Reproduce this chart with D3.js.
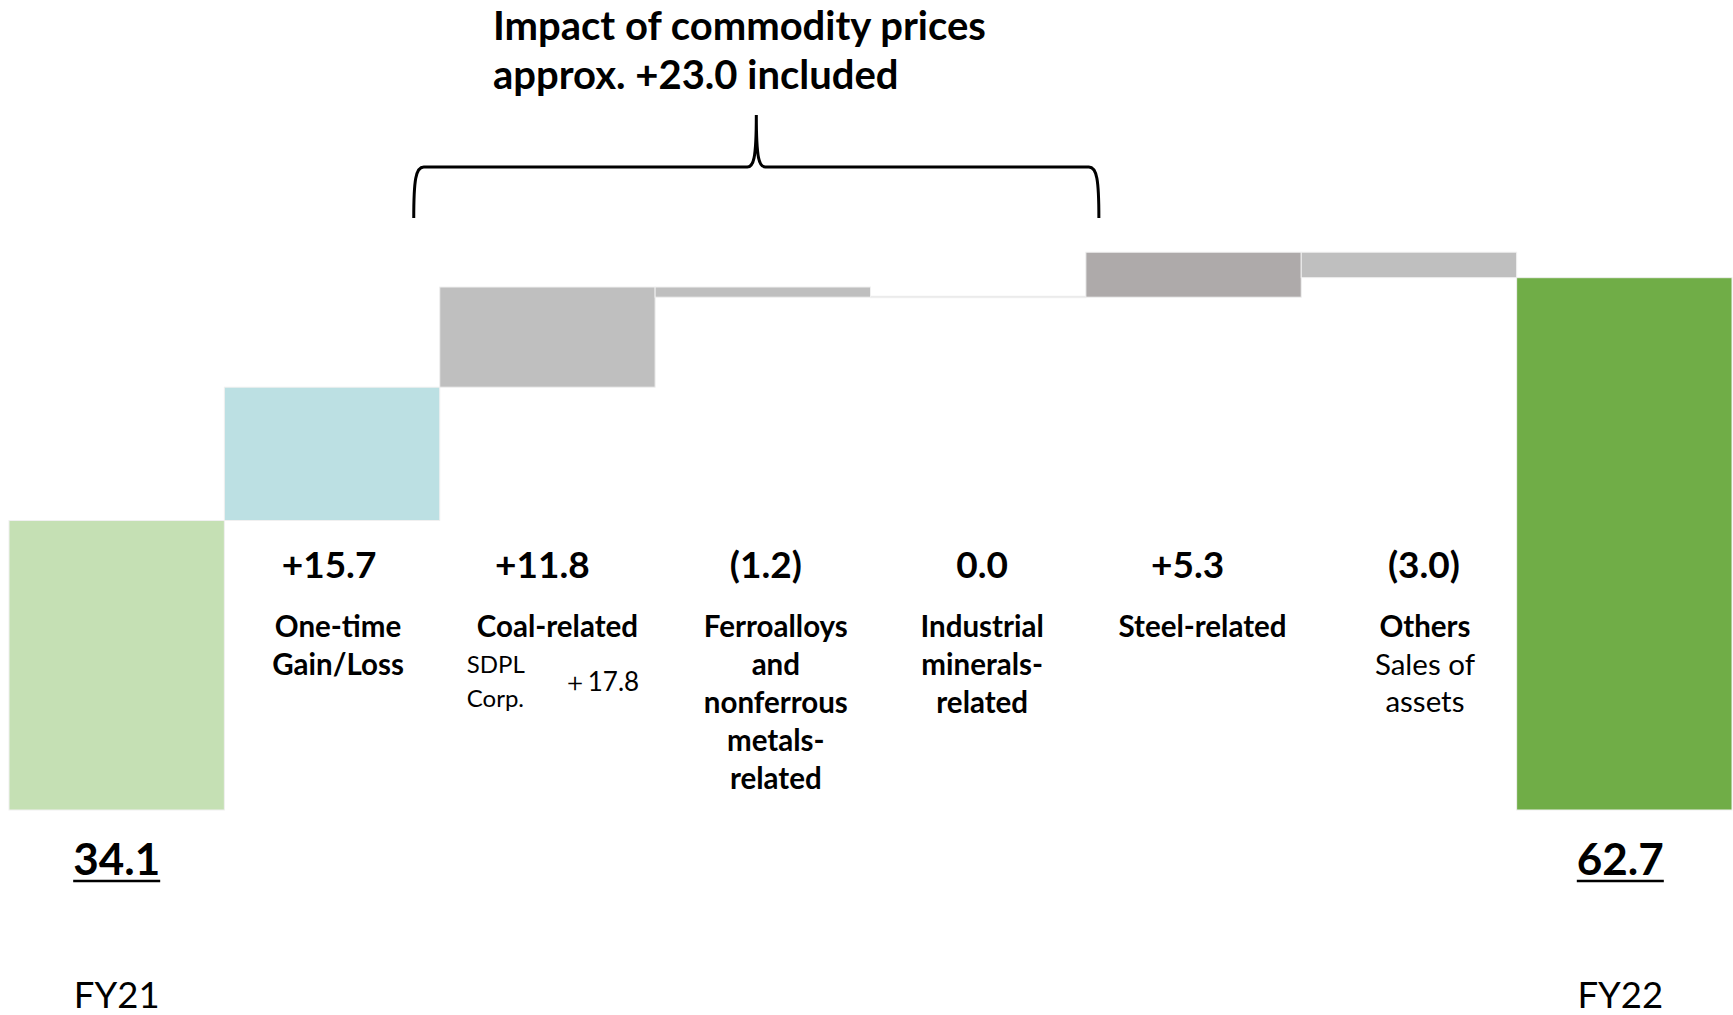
<!DOCTYPE html>
<html>
<head>
<meta charset="utf-8">
<script src="https://cdn.jsdelivr.net/npm/d3@7"></script>
<style>
  html, body { margin: 0; padding: 0; background: #fff; }
  svg { display: block; font-family: Lato, "Open Sans", sans-serif; }
</style>
</head>
<body>
<svg id="chart" width="1733" height="1015"></svg>
<script>
// waterfall data (billion yen)
var categories = ["FY21", "One-time", "Coal", "Ferro", "Industrial", "Steel", "Others", "FY22"];
var values = [34.1, 15.7, 11.8, -1.2, 0.0, 5.3, -3.0, 62.7];
var isTotal = [true, false, false, false, false, false, false, true];
var valueLabels = ["34.1", "+15.7", "+11.8", "(1.2)", "0.0", "+5.3", "(3.0)", "62.7"];
var boldLines = [[], ["One-time", "Gain/Loss"], ["Coal-related"],
  ["Ferroalloys", "and", "nonferrous", "metals-", "related"],
  ["Industrial", "minerals-", "related"], ["Steel-related"], ["Others"], []];
var plainLines = [[], [], [], [], [], [], ["Sales of", "assets"], []];
var periodLabels = ["FY21", "FY22"];
var titleLines = ["Impact of commodity prices", "approx. +23.0 included"];
var coalNote = ["SDPL", "Corp."], coalNoteValue = "＋17.8";
var colors = ["#c5e0b4", "#bce0e3", "#bfbfbf", "#bfbfbf", "#d9d9d9", "#aeaaaa", "#bfbfbf", "#70ad47"];

var svg = d3.select("#chart");

var x = d3.scaleBand().domain(categories).range([9, 1732]).padding(0),
    y = d3.scaleLinear().domain([0, 70]).range([810, 810 - 70 * 8.49]);

// running totals for the floating bars
var run = 0;
var bars = values.map(function(v, i) {
  var lo, hi;
  if (isTotal[i]) { lo = 0; hi = v; run = v; }
  else { lo = Math.min(run, run + v); hi = Math.max(run, run + v); run += v; }
  return {cat: categories[i], lo: lo, hi: hi, v: v, i: i};
});

svg.append("g").selectAll("rect")
  .data(bars)
  .enter().append("rect")
    .attr("x", function(d) { return x(d.cat); })
    .attr("width", x.bandwidth())
    .attr("y", function(d) { return d.hi === d.lo ? y(d.hi) - 1 : y(d.hi); })
    .attr("height", function(d) { return Math.max(y(d.lo) - y(d.hi), 1.5); })
    .attr("fill", function(d) { return colors[d.i]; })
    .attr("stroke", "#f0f0f0")
    .attr("stroke-width", 1);

// small horizontal nudges so labels sit where the slide put them
var nudge = [0, -3, -5, 3, 4, -6, 15, -4];
var labelNudge = [0, 6, 10, 13, 4, 9, 16, 0];

var steps = bars.filter(function(d) { return !isTotal[d.i]; });

svg.append("g")
    .attr("font-weight", "bold")
    .attr("font-size", 37)
    .attr("text-anchor", "middle")
  .selectAll("text")
  .data(steps)
  .enter().append("text")
    .attr("x", function(d) { return x(d.cat) + x.bandwidth() / 2 + nudge[d.i]; })
    .attr("y", 578)
    .text(function(d) { return valueLabels[d.i]; });

var cat = svg.append("g")
    .attr("text-anchor", "middle")
    .attr("font-size", 29.5)
  .selectAll("g")
  .data(steps)
  .enter().append("g")
    .attr("transform", function(d) { return "translate(" + (x(d.cat) + x.bandwidth() / 2 + labelNudge[d.i]) + ",637)"; });

cat.selectAll("text.b")
  .data(function(d) { return boldLines[d.i]; })
  .enter().append("text")
    .attr("class", "b")
    .attr("font-weight", "bold")
    .attr("y", function(d, i) { return i * 38; })
    .text(function(d) { return d; });

cat.selectAll("text.p")
  .data(function(d) { return plainLines[d.i].map(function(t, k) { return {t: t, k: k, n: boldLines[d.i].length}; }); })
  .enter().append("text")
    .attr("class", "p")
    .attr("y", function(d) { return (d.n + d.k) * 37.5; })
    .text(function(d) { return d.t; });

// coal sub note
var note = svg.append("g").attr("font-size", 24);
note.selectAll("text.n")
  .data(coalNote)
  .enter().append("text")
    .attr("x", x("Coal") + 27)
    .attr("y", function(d, i) { return 673 + i * 34; })
    .text(function(d) { return d; });
note.append("text")
    .attr("x", x("Coal") + 122)
    .attr("y", 691)
    .attr("font-size", 26)
    .text(coalNoteValue);

// totals, underlined, plus period labels
var totals = bars.filter(function(d) { return isTotal[d.i]; });
var tot = svg.append("g").attr("text-anchor", "middle")
  .selectAll("g")
  .data(totals)
  .enter().append("g")
    .attr("transform", function(d) { return "translate(" + (x(d.cat) + x.bandwidth() / 2 + nudge[d.i]) + ",0)"; });

tot.append("text")
    .attr("class", "tot")
    .attr("y", 875)
    .attr("font-size", 44)
    .attr("font-weight", "bold")
    .text(function(d) { return valueLabels[d.i]; });

tot.each(function() {
  var g = d3.select(this),
      w = g.select("text.tot").node().getComputedTextLength();
  g.append("line")
      .attr("x1", -w / 2).attr("x2", w / 2)
      .attr("y1", 881).attr("y2", 881)
      .attr("stroke", "#000").attr("stroke-width", 2.5);
});

tot.append("text")
    .attr("y", 1008)
    .attr("font-size", 36.5)
    .text(function(d, i) { return periodLabels[i]; });

// commodity brace and title
var bl = x("Coal") - 26, br = x("Steel") + 13, bm = (bl + br) / 2;
svg.append("path")
    .attr("d", "M" + bl + ",218 C" + bl + ",180 " + (bl + 2) + ",167 " + (bl + 10) + ",167 L" + (bm - 9) + ",167 C" +
      (bm - 3) + ",167 " + bm + ",160 " + bm + ",115 C" + bm + ",160 " + (bm + 3) + ",167 " + (bm + 9) + ",167 L" +
      (br - 10) + ",167 C" + (br - 2) + ",167 " + br + ",180 " + br + ",218")
    .attr("fill", "none")
    .attr("stroke", "#000")
    .attr("stroke-width", 3);

svg.append("g")
    .attr("font-weight", "bold")
    .attr("font-size", 40)
  .selectAll("text")
  .data(titleLines)
  .enter().append("text")
    .attr("x", 493)
    .attr("y", function(d, i) { return 40 + i * 49; })
    .text(function(d) { return d; });
</script>
</body>
</html>
